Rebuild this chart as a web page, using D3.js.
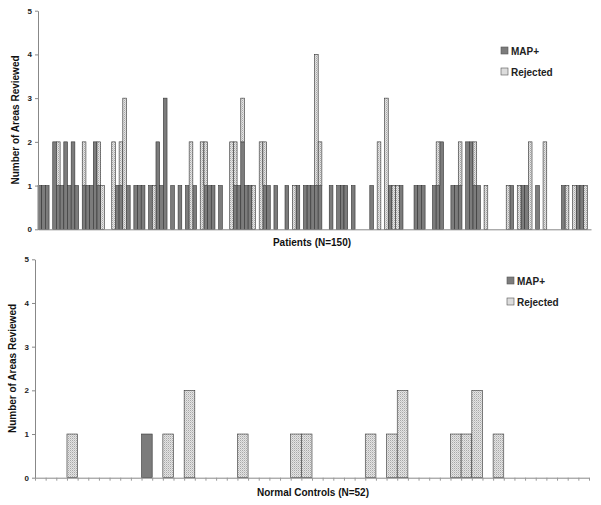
<!DOCTYPE html>
<html lang="en">
	<head>
		<meta charset="utf-8">
		<title>D3: Areas Reviewed</title>
		<script type="text/javascript" src="https://cdn.jsdelivr.net/npm/d3@7"></script>
		<style type="text/css">
			body { margin: 0; background: #fff; }
			text { font-family: "Liberation Sans", Arial, sans-serif; font-weight: bold; }
		</style>
	</head>
	<body>
		<script type="text/javascript">
			var w = 601;
			var h = 505;

			// patients, one entry per patient (N=150)
			var patientMap = [
				1,1,1,0,2,1,1,2,1,2, 1,0,1,1,1,2,1,0,0,0,
				0,1,1,0,1,0,1,1,1,0, 1,0,2,1,3,0,1,0,1,0,
				1,0,1,0,0,1,1,1,0,1, 0,0,0,1,1,2,1,1,0,0,
				0,1,1,0,1,0,0,1,0,0, 1,0,1,1,1,1,1,0,0,1,
				0,1,1,1,0,1,0,0,0,0, 1,0,0,0,0,1,0,0,1,0,
				0,0,1,1,1,0,0,1,1,2, 0,0,1,1,1,0,2,2,1,1,
				0,0,0,0,0,0,0,0,1,0, 0,1,1,0,0,1,0,0,0,0,
				0,0,1,0,0,0,1,1,0,0
			];
			var patientRejected = [
				0,0,0,0,0,1,0,0,0,0, 0,0,1,0,0,0,1,1,0,0,
				2,0,1,3,0,0,0,0,0,0, 0,1,0,0,0,0,0,0,0,0,
				0,2,0,0,2,1,0,0,0,0, 0,0,2,1,0,1,0,0,1,0,
				2,1,0,0,0,0,0,0,0,1, 0,0,0,0,0,3,1,0,0,0,
				0,0,0,0,0,0,0,0,0,0, 0,0,2,0,3,0,1,1,0,0,
				0,0,0,0,0,0,0,0,1,0, 0,0,0,0,1,0,0,0,1,0,
				0,1,0,0,0,0,0,1,0,0, 1,0,0,2,0,0,0,2,0,0,
				0,0,0,1,0,1,0,0,1,0
			];

			// normal controls (N=52)
			var controlMap = [
				0,0,0,0,0,0,0,0,0,0, 1,0,0,0,0,0,0,0,0,0,
				0,0,0,0,0,0,0,0,0,0, 0,0,0,0,0,0,0,0,0,0,
				0,0,0,0,0,0,0,0,0,0, 0,0
			];
			var controlRejected = [
				0,0,0,1,0,0,0,0,0,0, 0,0,1,0,2,0,0,0,0,1,
				0,0,0,0,1,1,0,0,0,0, 0,1,0,1,2,0,0,0,0,1,
				1,2,0,1,0,0,0,0,0,0, 0,0
			];

			var yTicks = [0, 1, 2, 3, 4, 5];
			var seriesNames = ["MAP+", "Rejected"];

			var svg = d3.select("body")
					.append("svg")
					.attr("width", w)
					.attr("height", h);

			// dotted fill for the rejected bars
			var pat = svg.append("defs")
					.append("pattern")
					.attr("id", "dots")
					.attr("patternUnits", "userSpaceOnUse")
					.attr("width", 2)
					.attr("height", 2);
			pat.append("rect").attr("width", 2).attr("height", 2).attr("fill", "#e4e4e4");
			pat.append("rect").attr("width", 1).attr("height", 1).attr("fill", "#a8a8a8");
			pat.append("rect").attr("x", 1).attr("y", 1).attr("width", 1).attr("height", 1).attr("fill", "#c8c8c8");

			var fills = ["#7c7c7c", "url(#dots)"];

			function panel(mapVals, rejVals, p) {
				var g = svg.append("g");
				var n = mapVals.length;

				var x = d3.scaleBand()
						.domain(d3.range(n))
						.range([p.x0, p.x1])
						.padding(0);
				var y = d3.scaleLinear()
						.domain([0, 5])
						.range([p.y0, p.y1]);

				var rows = d3.range(n).map(function(i) {
					return { i: i, "MAP+": mapVals[i], "Rejected": rejVals[i] };
				});
				var stacked = d3.stack().keys(seriesNames)(rows);

				g.selectAll("g.series")
					.data(stacked)
					.enter()
					.append("g")
					.attr("class", "series")
					.attr("fill", function(d, k) { return fills[k]; })
					.selectAll("rect")
					.data(function(d) {
						return d.filter(function(s) { return s[1] > s[0]; });
					})
					.enter()
					.append("rect")
					.attr("x", function(d) { return x(d.data.i); })
					.attr("y", function(d) { return y(d[1]); })
					.attr("width", x.bandwidth())
					.attr("height", function(d) { return y(d[0]) - y(d[1]); })
					.attr("stroke", "#333")
					.attr("stroke-width", 0.6);

				// y axis
				var ya = g.append("g")
						.attr("transform", "translate(" + p.x0 + ",0)")
						.call(d3.axisLeft(y).tickValues(yTicks).tickFormat(d3.format("d")).tickSize(3).tickSizeOuter(0));
				ya.select(".domain").attr("stroke", "#888");
				ya.selectAll(".tick line").attr("stroke", "#888");
				ya.selectAll(".tick text")
					.attr("font-size", "8px")
					.attr("font-weight", "bold")
					.attr("font-family", "Liberation Sans, Arial, sans-serif")
					.attr("fill", "#222")
					.attr("x", -6);

				// x axis line with category ticks
				var xl = d3.scaleLinear().domain([0, n]).range([p.x0, p.x1]);
				var xa = g.append("g")
						.attr("transform", "translate(0," + p.y0 + ")")
						.call(d3.axisBottom(xl).tickValues(p.ticks ? d3.range(n + 1) : []).tickFormat("").tickSize(3).tickSizeOuter(0));
				xa.select(".domain").attr("stroke", "#888");
				xa.selectAll(".tick line").attr("stroke", "#999");

				// titles
				g.append("text")
					.text(p.xTitle)
					.attr("x", p.xTitleX)
					.attr("y", p.xTitleY)
					.attr("text-anchor", "middle")
					.attr("font-size", "10px")
					.attr("fill", "#111");
				g.append("text")
					.text("Number of Areas Reviewed")
					.attr("transform", "translate(" + p.yTitleX + "," + (p.y0 + p.y1) / 2 + ") rotate(-90)")
					.attr("text-anchor", "middle")
					.attr("font-size", "10px")
					.attr("fill", "#111");

				// legend
				var lg = g.selectAll("g.legend")
						.data(seriesNames)
						.enter()
						.append("g")
						.attr("class", "legend")
						.attr("transform", function(d, k) {
							return "translate(" + p.legX + "," + (p.legY + k * 21) + ")";
						});
				lg.append("rect")
					.attr("x", 0)
					.attr("y", -6)
					.attr("width", 7)
					.attr("height", 7)
					.attr("fill", function(d, k) { return k == 0 ? fills[0] : "#dcdcdc"; })
					.attr("stroke", "#555")
					.attr("stroke-width", 0.6);
				lg.append("text")
					.text(function(d) { return d; })
					.attr("x", 10)
					.attr("y", 1.5)
					.attr("font-size", "10px")
					.attr("fill", "#222");
			}

			panel(patientMap, patientRejected, {
				x0: 38, x1: 591, y0: 229.3, y1: 10.7, ticks: false,
				xTitle: "Patients (N=150)", xTitleX: 312, xTitleY: 246,
				yTitleX: 19, legX: 501, legY: 53
			});

			panel(controlMap, controlRejected, {
				x0: 35, x1: 589, y0: 477.7, y1: 259.3, ticks: true,
				xTitle: "Normal Controls (N=52)", xTitleX: 313, xTitleY: 496,
				yTitleX: 16, legX: 507, legY: 283
			});
		</script>
	</body>
</html>
